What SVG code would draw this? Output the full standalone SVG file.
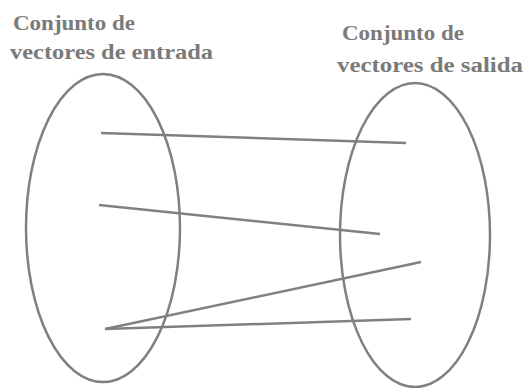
<svg xmlns="http://www.w3.org/2000/svg" width="527" height="388" viewBox="0 0 527 388">
<style>
.set{fill:none;stroke:#808080;stroke-width:2.5}
.lbl{font-family:"Liberation Serif","DejaVu Serif",serif;font-weight:bold;font-size:22px;fill:#7a7a7a}
.conn line{stroke:#808080;stroke-width:2.5}
</style>
<rect width="527" height="388" fill="#fff"/>
<g id="input-set">
<ellipse class="set" cx="103" cy="228" rx="77" ry="154"/>
<text class="lbl" x="13" y="30" textLength="122" lengthAdjust="spacingAndGlyphs">Conjunto de</text>
<text class="lbl" x="10" y="59" textLength="203" lengthAdjust="spacingAndGlyphs">vectores de entrada</text>
</g>
<g id="output-set">
<ellipse class="set" cx="415" cy="235" rx="75" ry="152"/>
<text class="lbl" x="342" y="40" textLength="122" lengthAdjust="spacingAndGlyphs">Conjunto de</text>
<text class="lbl" x="337" y="72" textLength="186" lengthAdjust="spacingAndGlyphs">vectores de salida</text>
</g>
<g id="connectors" class="conn">
<line x1="101" y1="133" x2="406" y2="143"/>
<line x1="99" y1="205" x2="380" y2="234"/>
<line x1="105" y1="329" x2="421" y2="262"/>
<line x1="105" y1="329" x2="411" y2="319"/>
</g>
</svg>
